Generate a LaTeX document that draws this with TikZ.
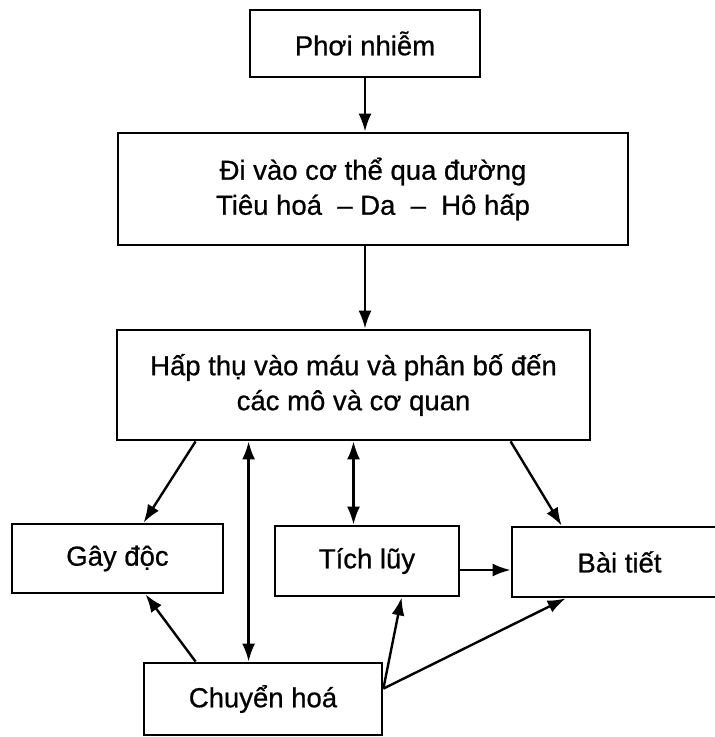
\documentclass[tikz,border=0pt]{standalone}
\usepackage{fontspec}
\setmainfont{Liberation Sans}[FakeBold=0.7]
\usepackage{tikz}
\usetikzlibrary{arrows.meta,positioning,calc}

\begin{document}
\begin{tikzpicture}[
    x=1pt, y=-1pt,
    box/.style={rectangle, draw=black, line width=2.8pt, align=center, inner sep=0pt,
                font=\fontsize{27.5}{35}\selectfont},
    arrow/.style={-{Latex[length=18pt,width=13pt]}, line width=2.4pt},
    arrow2/.style={{Latex[length=18pt,width=13pt]}-{Latex[length=18pt,width=13pt]}, line width=2.4pt}
]
    \useasboundingbox (0,0) rectangle (715,737);
    \clip (0,0) rectangle (715,737);

    % Main column
    \node[box, minimum width=230pt, minimum height=67pt] (phoi) at (365,43.5) {Phơi nhiễm};
    \node[box, minimum width=510pt, minimum height=112pt] (divao) at (373,189)
        {Đi vào cơ thể qua đường\\Tiêu hoá\ \ – Da\ \ –\ \ Hô hấp};
    \node[box, minimum width=473pt, minimum height=110pt] (hapthu) at (353.5,385)
        {Hấp thụ vào máu và phân bố đến\\các mô và cơ quan};

    % Row of results
    \node[box, minimum width=211pt, minimum height=69pt] (gaydoc) at (117.5,558.5) {Gây độc};
    \node[box, minimum width=184pt, minimum height=70pt] (tichluy) at (367,561) {Tích lũy};
    \node[box, minimum width=215pt, minimum height=70pt] (baitiet) at (619.5,562) {Bài tiết};

    % Bottom
    \node[box, minimum width=238pt, minimum height=72pt] (chuyen) at (263,699) {Chuyển hoá};

    % Connections
    \draw[arrow] (phoi.south) -- (phoi.south |- divao.north);
    \draw[arrow] (divao.south -| phoi.south) -- (hapthu.north -| phoi.south);
    \draw[arrow] ($(hapthu.south west)+(80,0)$) -- ($(gaydoc.north west)+(133,0)$);
    \draw[arrow2] ($(chuyen.north west)+(106,0)$) coordinate (m1) -- (m1 |- hapthu.south);
    \draw[arrow] ($(chuyen.north west)+(53,0)$) -- ($(gaydoc.south west)+(135,0)$);
    \draw[arrow2] (hapthu.south) -- (hapthu.south |- tichluy.north);
    \draw[arrow] ($(hapthu.south west)+(395,0)$) -- ($(baitiet.north west)+(51,0)$);
    \draw[arrow] ($(tichluy.east)+(0,9)$) coordinate (t1) -- (t1 -| baitiet.west);
    \draw[arrow] ($(chuyen.north east)+(0,27)$) coordinate (c1) -- ($(tichluy.south west)+(128,0)$);
    \draw[arrow] (c1) -- ($(baitiet.south west)+(55,0)$);

\end{tikzpicture}
\end{document}
